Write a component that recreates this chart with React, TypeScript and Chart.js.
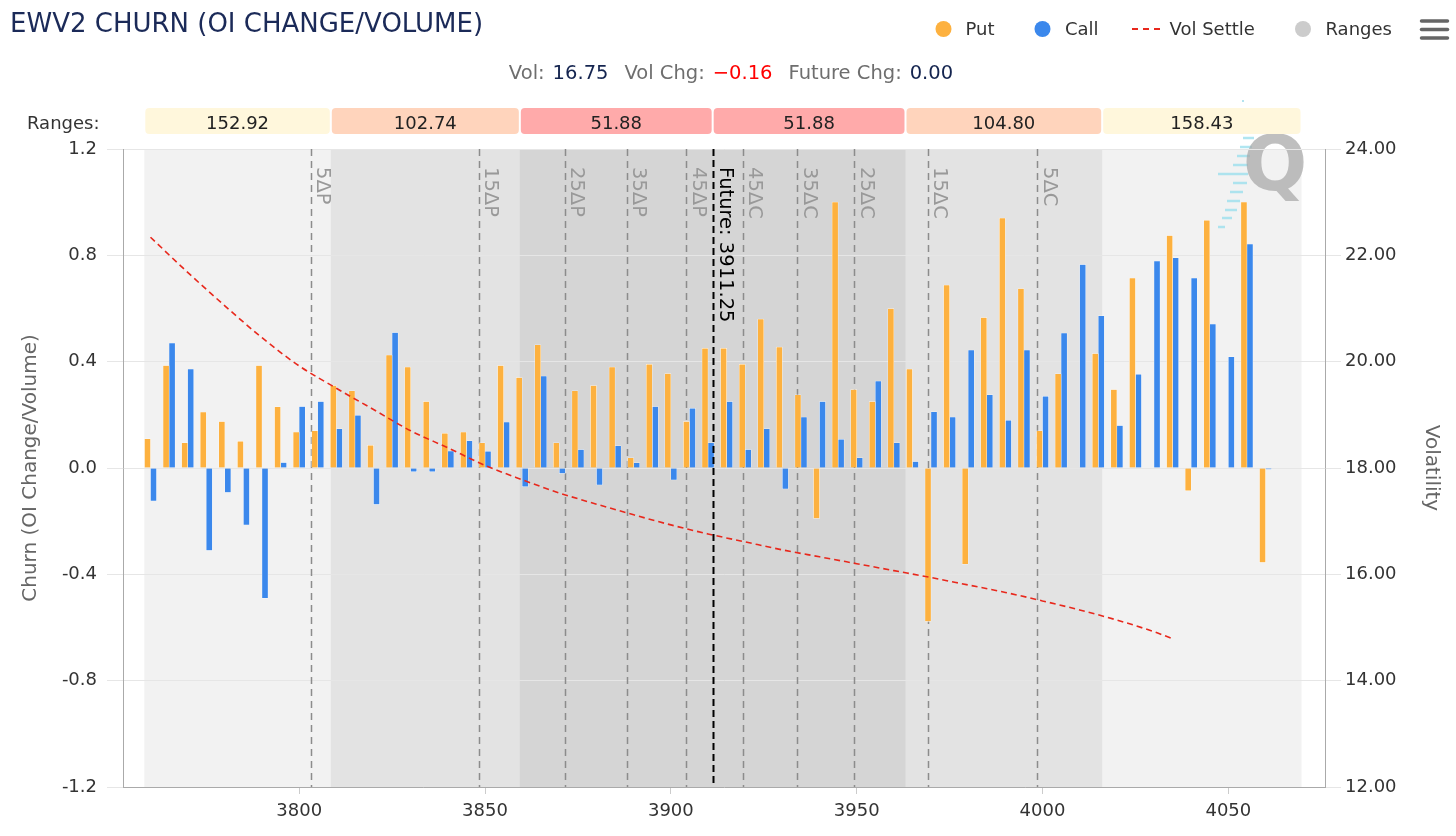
import React, { useEffect, useRef } from "react";
import { Chart, registerables } from "chart.js";

Chart.register(...registerables);

const FONT = '"DejaVu Sans", sans-serif';

// ---------- data ----------
const strikes = [
  3760, 3765, 3770, 3775, 3780, 3785, 3790, 3795, 3800, 3805,
  3810, 3815, 3820, 3825, 3830, 3835, 3840, 3845, 3850, 3855,
  3860, 3865, 3870, 3875, 3880, 3885, 3890, 3895, 3900, 3905,
  3910, 3915, 3920, 3925, 3930, 3935, 3940, 3945, 3950, 3955,
  3960, 3965, 3970, 3975, 3980, 3985, 3990, 3995, 4000, 4005,
  4010, 4015, 4020, 4025, 4030, 4035, 4040, 4045, 4050, 4055,
  4060,
];

const putChurn = [
  0.11, 0.385, 0.095, 0.21, 0.175, 0.1, 0.385, 0.23, 0.135, 0.14,
  0.31, 0.29, 0.085, 0.425, 0.38, 0.25, 0.13, 0.135, 0.095, 0.385,
  0.34, 0.463, 0.095, 0.29, 0.31, 0.38, 0.038, 0.39, 0.355, 0.175,
  0.45, 0.45, 0.39, 0.56, 0.455, 0.275, -0.19, 1.0, 0.295, 0.25,
  0.6, 0.372, -0.577, 0.688, -0.362, 0.566, 0.94, 0.675, 0.14, 0.354,
  0, 0.43, 0.295, 0.714, 0, 0.874, -0.085, 0.932, 0, 1.0,
  -0.355,
];

const callChurn = [
  -0.124, 0.47, 0.372, -0.31, -0.092, -0.214, -0.49, 0.02, 0.231, 0.25,
  0.147, 0.198, -0.137, 0.509, -0.014, -0.014, 0.064, 0.102, 0.063, 0.173,
  -0.07, 0.346, -0.02, 0.069, -0.064, 0.083, 0.019, 0.231, -0.045, 0.224,
  0.095, 0.25, 0.069, 0.147, -0.079, 0.192, 0.25, 0.108, 0.038, 0.327,
  0.095, 0.024, 0.211, 0.192, 0.444, 0.275, 0.179, 0.444, 0.27, 0.508,
  0.765, 0.572, 0.16, 0.352, 0.778, 0.791, 0.714, 0.541, 0.418, 0.842,
  -0.005,
];

const volStrikes = [
  3760, 3770, 3780, 3790, 3800, 3810, 3820, 3830, 3840, 3850,
  3860, 3870, 3880, 3890, 3900, 3910, 3920, 3930, 3940, 3950,
  3960, 3970, 3980, 3990, 4000, 4010, 4020, 4030, 4035,
];
const volSettle = [
  22.34, 21.68, 21.05, 20.45, 19.92, 19.5, 19.1, 18.7, 18.38, 18.05,
  17.78, 17.53, 17.32, 17.12, 16.93, 16.76, 16.61, 16.46, 16.33, 16.2,
  16.07, 15.94, 15.8, 15.66, 15.5, 15.33, 15.14, 14.92, 14.79,
];

const futurePrice = 3911.25;
const rangeWidths = [152.92, 102.74, 51.88, 51.88, 104.8, 158.43];
const rangeLabels = ["152.92", "102.74", "51.88", "51.88", "104.80", "158.43"];
const rangeColors = ["#fff7dc", "#ffd4bc", "#ffaaaa", "#ffaaaa", "#ffd4bc", "#fff7dc"];
const bandColors = ["#f2f2f2", "#e3e3e3", "#d5d5d5"];

const deltaLabels = ["5ΔP", "15ΔP", "25ΔP", "35ΔP", "45ΔP", "45ΔC", "35ΔC", "25ΔC", "15ΔC", "5ΔC"];
const deltaStrikes = [3803.1, 3848.3, 3871.4, 3888.1, 3904.2, 3919.3, 3934.0, 3949.4, 3969.1, 3998.6];

const xTicks = [3800, 3850, 3900, 3950, 4000, 4050];
const yTicks = [-1.2, -0.8, -0.4, 0, 0.4, 0.8, 1.2];
const y1Ticks = [12, 14, 16, 18, 20, 22, 24];

const titleText = "EWV2 CHURN (OI CHANGE/VOLUME)";
const subtitleParts = [
  ["Vol:", "label"],
  ["16.75", "value"],
  ["Vol Chg:", "label"],
  ["−0.16", "neg"],
  ["Future Chg:", "label"],
  ["0.00", "value"],
];

const PUT_COLOR = "#fdb13f";
const CALL_COLOR = "#3b88ec";
const VOL_COLOR = "#e8281c";

function vText(ctx: any, text: string, x: number, y: number, color: string, font: string, angle: number) {
  ctx.save();
  ctx.translate(x, y);
  ctx.rotate(angle);
  ctx.fillStyle = color;
  ctx.font = font;
  ctx.textAlign = "left";
  ctx.textBaseline = "alphabetic";
  ctx.fillText(text, 0, 0);
  ctx.restore();
}

const decorPlugin = {
  id: "decor",
  beforeDraw(chart: any) {
    const { ctx, chartArea: a, scales } = chart;
    const xs = scales.x;
    ctx.save();
    ctx.fillStyle = "#ffffff";
    ctx.fillRect(0, 0, chart.width, chart.height);
    const bands = [
      [rangeWidths[0], rangeWidths[5]],
      [rangeWidths[1], rangeWidths[4]],
      [rangeWidths[2], rangeWidths[3]],
    ];
    bands.forEach((b, i) => {
      const x0 = xs.getPixelForValue(futurePrice - b[0]);
      const x1 = xs.getPixelForValue(futurePrice + b[1]);
      ctx.fillStyle = bandColors[i];
      ctx.fillRect(x0, a.top, x1 - x0, a.bottom - a.top);
    });
    // watermark
    ctx.strokeStyle = "rgba(150,222,236,0.75)";
    ctx.lineWidth = 2.5;
    const rows = [
      [138, 1243, 1254], [147, 1240, 1252], [156, 1237, 1250], [165, 1233, 1248],
      [174, 1218, 1248], [183, 1233, 1247], [192, 1230, 1243], [201, 1227, 1240],
      [210, 1225, 1237], [218, 1222, 1232], [227, 1218, 1225],
    ];
    rows.forEach((r) => {
      ctx.beginPath();
      ctx.moveTo(r[1], r[0]);
      ctx.lineTo(r[2], r[0]);
      ctx.stroke();
    });
    ctx.fillStyle = "rgba(160,220,235,0.8)";
    ctx.fillRect(1242, 100, 2, 2);
    ctx.fillStyle = "rgba(170,170,170,0.75)";
    ctx.font = `bold 76px ${FONT}`;
    ctx.textAlign = "center";
    ctx.textBaseline = "alphabetic";
    ctx.fillText("Q", 1275, 190);
    ctx.restore();
  },
  beforeDatasetsDraw(chart: any) {
    const { ctx, chartArea: a, scales } = chart;
    const xs = scales.x;
    ctx.save();
    ctx.strokeStyle = "#8c8c8c";
    ctx.lineWidth = 1.5;
    ctx.setLineDash([7, 5]);
    deltaStrikes.forEach((s) => {
      const px = Math.round(xs.getPixelForValue(s)) + 0.5;
      ctx.beginPath();
      ctx.moveTo(px, a.top);
      ctx.lineTo(px, a.bottom);
      ctx.stroke();
    });
    ctx.restore();
  },
  afterDatasetsDraw(chart: any) {
    const { ctx, chartArea: a, scales } = chart;
    const xs = scales.x;
    ctx.save();
    deltaStrikes.forEach((s, i) => {
      const px = xs.getPixelForValue(s);
      vText(ctx, deltaLabels[i], px + 6.5, a.top + 18, "#999999", `19.5px ${FONT}`, Math.PI / 2);
    });
    const fx = Math.round(xs.getPixelForValue(futurePrice)) + 0.5;
    ctx.strokeStyle = "#000000";
    ctx.lineWidth = 2;
    ctx.setLineDash([7, 4]);
    ctx.beginPath();
    ctx.moveTo(fx, a.top);
    ctx.lineTo(fx, a.bottom);
    ctx.stroke();
    ctx.setLineDash([]);
    vText(ctx, "Future: " + futurePrice.toFixed(2), fx + 6.5, a.top + 18, "#000000", `19.5px ${FONT}`, Math.PI / 2);
    ctx.restore();
  },
  afterDraw(chart: any) {
    const { ctx, chartArea: a, scales } = chart;
    const xs = scales.x;
    ctx.save();
    // title
    ctx.fillStyle = "#1b2a58";
    ctx.font = `26px ${FONT}`;
    ctx.textAlign = "left";
    ctx.textBaseline = "alphabetic";
    ctx.fillText(titleText, 10, 32);

    // subtitle
    ctx.font = `19.5px ${FONT}`;
    const gapIn = 8;
    const gapOut = 16;
    let total = 0;
    subtitleParts.forEach((p, i) => {
      total += ctx.measureText(p[0]).width;
      if (i < subtitleParts.length - 1) total += i % 2 === 0 ? gapIn : gapOut;
    });
    let sx = 731 - total / 2;
    subtitleParts.forEach((p, i) => {
      ctx.fillStyle = p[1] === "label" ? "#6e6e6e" : p[1] === "neg" ? "#ff0000" : "#14244f";
      ctx.fillText(p[0], sx, 79);
      sx += ctx.measureText(p[0]).width + (i % 2 === 0 ? gapIn : gapOut);
    });

    // legend
    ctx.font = `18px ${FONT}`;
    const ly = 29;
    const legendText = (t: string, x: number) => {
      ctx.fillStyle = "#333333";
      ctx.textBaseline = "middle";
      ctx.fillText(t, x, ly + 1);
    };
    const dot = (x: number, c: string) => {
      ctx.fillStyle = c;
      ctx.beginPath();
      ctx.arc(x, ly, 8, 0, Math.PI * 2);
      ctx.fill();
    };
    dot(943.5, PUT_COLOR);
    legendText("Put", 965.5);
    dot(1042.5, CALL_COLOR);
    legendText("Call", 1065);
    ctx.strokeStyle = VOL_COLOR;
    ctx.lineWidth = 2;
    ctx.setLineDash([6, 5]);
    ctx.beginPath();
    ctx.moveTo(1132, ly);
    ctx.lineTo(1163, ly);
    ctx.stroke();
    ctx.setLineDash([]);
    legendText("Vol Settle", 1169.5);
    dot(1303, "#cccccc");
    legendText("Ranges", 1325.5);
    // hamburger
    ctx.strokeStyle = "#666666";
    ctx.lineWidth = 3.5;
    ctx.lineCap = "round";
    [21, 29.5, 38].forEach((y) => {
      ctx.beginPath();
      ctx.moveTo(1421.5, y);
      ctx.lineTo(1447.5, y);
      ctx.stroke();
    });
    ctx.lineCap = "butt";

    // ranges row
    ctx.textBaseline = "alphabetic";
    ctx.font = `18px ${FONT}`;
    ctx.fillStyle = "#333333";
    ctx.textAlign = "left";
    ctx.fillText("Ranges:", 27, 128.5);
    const F = futurePrice;
    const edges = [
      [F - rangeWidths[0], F - rangeWidths[1]],
      [F - rangeWidths[1], F - rangeWidths[2]],
      [F - rangeWidths[2], F],
      [F, F + rangeWidths[3]],
      [F + rangeWidths[3], F + rangeWidths[4]],
      [F + rangeWidths[4], F + rangeWidths[5]],
    ];
    edges.forEach((e, i) => {
      const x0 = xs.getPixelForValue(e[0]) + 1;
      const x1 = xs.getPixelForValue(e[1]) - 1;
      ctx.fillStyle = rangeColors[i];
      ctx.beginPath();
      ctx.roundRect(x0, 108, x1 - x0, 26, 4);
      ctx.fill();
      ctx.fillStyle = "#222222";
      ctx.textAlign = "center";
      ctx.fillText(rangeLabels[i], (x0 + x1) / 2, 128.5);
    });

    // axis titles
    ctx.textAlign = "center";
    ctx.textBaseline = "middle";
    ctx.fillStyle = "#666666";
    ctx.font = `20px ${FONT}`;
    ctx.save();
    ctx.translate(31, (a.top + a.bottom) / 2);
    ctx.rotate(-Math.PI / 2);
    ctx.fillText("Churn (OI Change/Volume)", 0, 0);
    ctx.restore();
    ctx.save();
    ctx.translate(1431.5, (a.top + a.bottom) / 2);
    ctx.rotate(Math.PI / 2);
    ctx.fillText("Volatility", 0, 0);
    ctx.restore();
    ctx.restore();
  },
};

export default function App() {
  const canvasRef = useRef<HTMLCanvasElement>(null);

  useEffect(() => {
    document.body.style.margin = "0";
    const canvas = canvasRef.current;
    if (!canvas) return;
    const tickFont = { family: "DejaVu Sans", size: 18 };
    const chart = new Chart(canvas, {
      type: "bar",
      data: {
        datasets: [
          {
            type: "line",
            label: "Vol Settle",
            data: volStrikes.map((s, i) => ({ x: s, y: volSettle[i] })),
            yAxisID: "y1",
            borderColor: VOL_COLOR,
            borderWidth: 1.6,
            borderDash: [6, 4],
            pointRadius: 0,
            cubicInterpolationMode: "monotone",
            fill: false,
            order: 0,
          },
          {
            type: "bar",
            label: "Put",
            data: strikes.map((s, i) => ({ x: s, y: putChurn[i] })),
            yAxisID: "y",
            backgroundColor: PUT_COLOR,
            borderColor: "#ffffff",
            borderWidth: 0.5,
            barThickness: 6,
            order: 1,
          },
          {
            type: "bar",
            label: "Call",
            data: strikes.map((s, i) => ({ x: s, y: callChurn[i] })),
            yAxisID: "y",
            backgroundColor: CALL_COLOR,
            borderColor: "#ffffff",
            borderWidth: 0.5,
            barThickness: 6,
            order: 1,
          },
        ] as any,
      },
      options: {
        animation: false,
        responsive: false,
        devicePixelRatio: 1,
        layout: { padding: { top: 149, left: 0, right: 0, bottom: 0 } },
        plugins: {
          legend: { display: false },
          tooltip: { enabled: false },
          title: { display: false },
        },
        scales: {
          x: {
            type: "linear",
            min: 3752.6,
            max: 4076,
            offset: false,
            afterBuildTicks: (s: any) => {
              s.ticks = xTicks.map((v) => ({ value: v }));
            },
            afterFit: (s: any) => {
              s.height = 49;
            },
            grid: {
              offset: false,
              drawOnChartArea: false,
              drawTicks: true,
              tickLength: 7,
              color: "#cccccc",
            },
            border: { display: true, color: "#aaaaaa", width: 1 },
            ticks: {
              font: tickFont,
              color: "#333333",
              padding: 7,
              maxRotation: 0,
              callback: (v: any) => String(v),
            },
          },
          y: {
            type: "linear",
            position: "left",
            min: -1.2,
            max: 1.2,
            afterBuildTicks: (s: any) => {
              s.ticks = yTicks.map((v) => ({ value: v }));
            },
            afterFit: (s: any) => {
              s.width = 123;
            },
            grid: { color: "#e6e6e6", lineWidth: 1, drawTicks: true, tickLength: 16 },
            border: { display: true, color: "#aaaaaa", width: 1 },
            ticks: {
              font: tickFont,
              color: "#333333",
              padding: 10,
              callback: (v: any) => Number(v).toFixed(1),
            },
          },
          y1: {
            type: "linear",
            position: "right",
            min: 12,
            max: 24,
            afterBuildTicks: (s: any) => {
              s.ticks = y1Ticks.map((v) => ({ value: v }));
            },
            afterFit: (s: any) => {
              s.width = 131;
            },
            grid: { drawOnChartArea: false, color: "#e6e6e6", drawTicks: true, tickLength: 16 },
            border: { display: true, color: "#aaaaaa", width: 1 },
            ticks: {
              font: tickFont,
              color: "#333333",
              padding: 4,
              callback: (v: any) => Number(v).toFixed(2),
            },
          },
        },
      } as any,
      plugins: [decorPlugin],
    });
    return () => chart.destroy();
  }, []);

  return (
    <div style={{ position: "relative", width: 1456, height: 836 }}>
      <canvas ref={canvasRef} width={1456} height={836} style={{ display: "block" }} />
    </div>
  );
}
